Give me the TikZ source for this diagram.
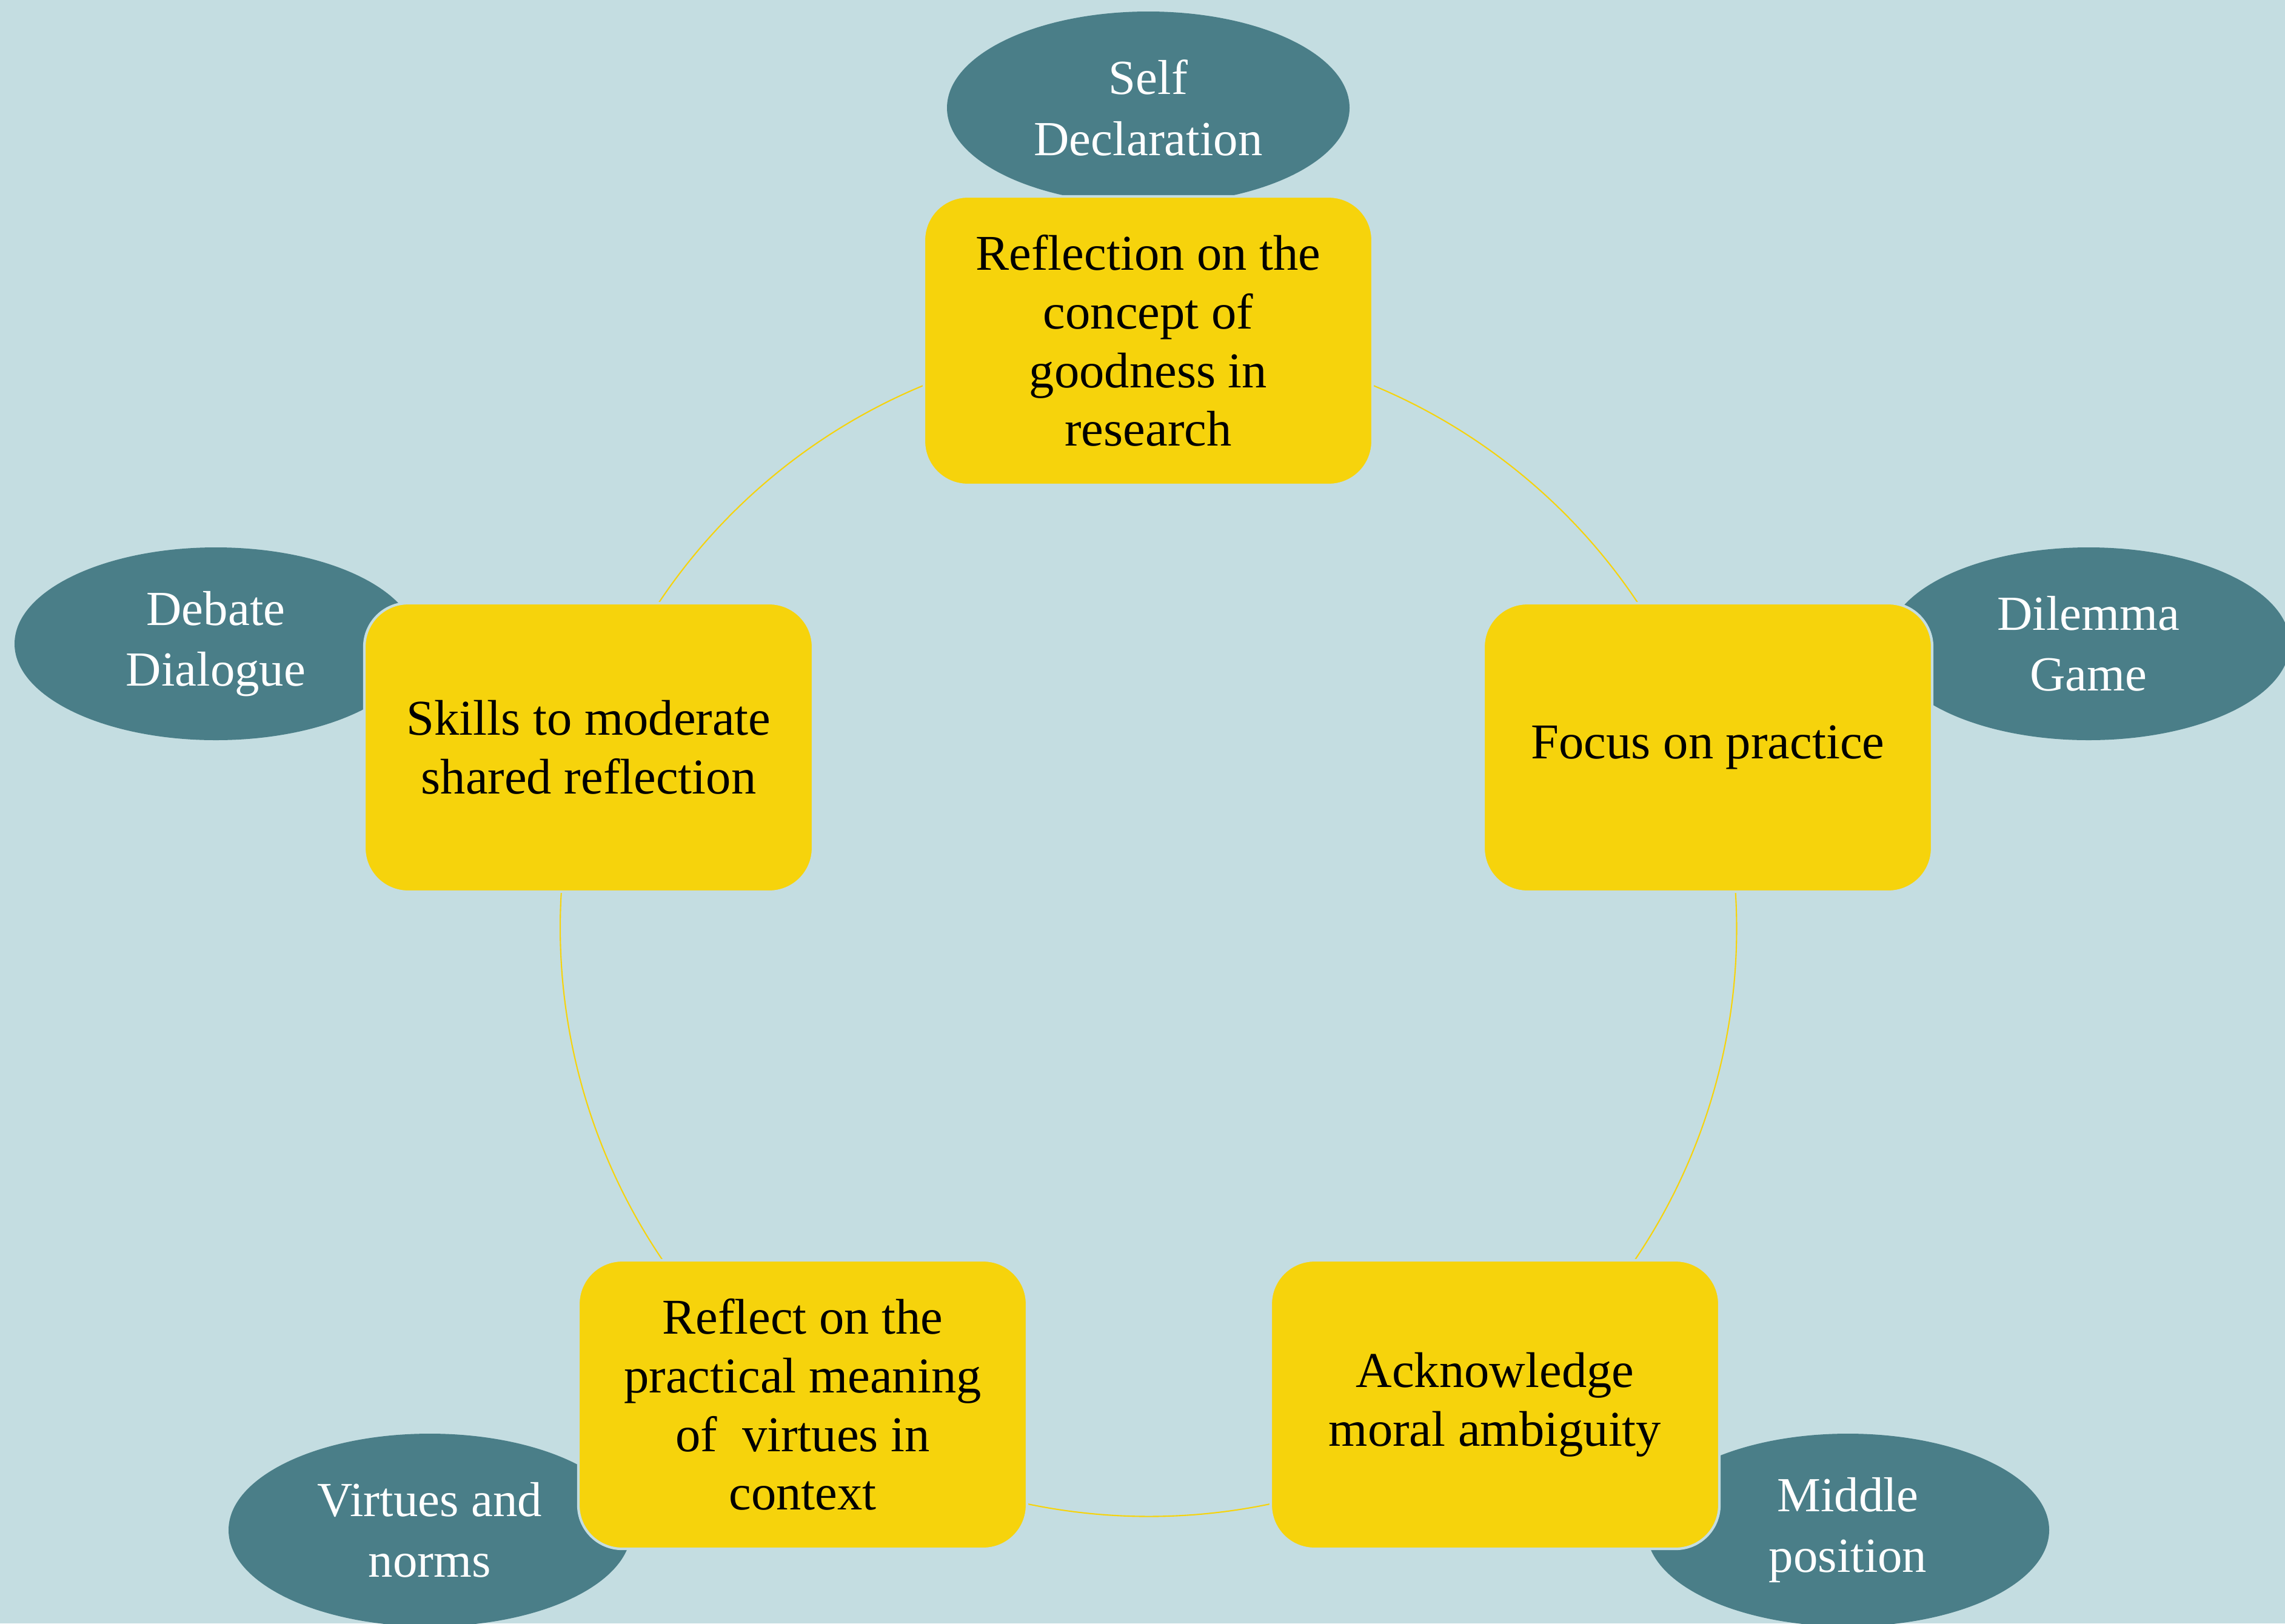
\documentclass[tikz,border=0pt]{standalone}
\usepackage{fontspec}
\setmainfont{Liberation Serif}
\usepackage{tikz}
\usetikzlibrary{shapes.geometric}

\definecolor{bgblue}{HTML}{C4DDE1}
\definecolor{boxyellow}{HTML}{F6D30C}
\definecolor{methodteal}{HTML}{4A7E88}

\pgfdeclarelayer{bg}
\pgfdeclarelayer{links}
\pgfsetlayers{bg,links,main}

\tikzset{
  theme/.style={rectangle, rounded corners=0.72cm, fill=boxyellow, draw=bgblue, line width=1.2pt,
    minimum width=7.4cm, minimum height=4.76cm, align=center, text=black,
    font=\fontsize{23.5}{27.5}\selectfont},
  method/.style={ellipse, fill=methodteal, minimum width=6.64cm, minimum height=3.18cm,
    align=center, text=white, inner sep=0pt, font=\fontsize{23}{28.5}\selectfont},
  link/.style={draw=boxyellow, line width=0.6pt, bend left=36, looseness=0.94}
}

\begin{document}
\begin{tikzpicture}
            % Background
            \begin{pgfonlayer}{bg}
            \fill[bgblue] (0,0) rectangle (37.69,-26.78);
            \end{pgfonlayer}
            \useasboundingbox (0,0) rectangle (37.69,-26.78);

            % Methods (behind the themes)
            \node[method] (selfdecl) at (18.94,-1.78) {Self\\Declaration};
            \node[method] (dilemma) at (34.45,-10.62) {Dilemma\\Game};
            \node[method] (middle) at (30.48,-25.24) {Middle\\position};
            \node[method] (norms) at (7.09,-25.24) {Virtues and\\norms};
            \node[method] (debate) at (3.56,-10.62) {Debate\\Dialogue};

            % Themes around the circle
            \node[theme] (goodness) at (18.94,-5.62) {Reflection on the\\concept of\\goodness in\\research};
            \node[theme] (practice) at (28.17,-12.33) {Focus on practice};
            \node[theme] (ambiguity) at (24.66,-23.17) {Acknowledge\\moral ambiguity};
            \node[theme] (virtues) at (13.24,-23.17) {Reflect on the\\practical meaning\\of~ virtues in\\context};
            \node[theme] (skills) at (9.71,-12.33) {Skills to moderate\\shared reflection};

            % Circle of links, drawn under the themes
            \begin{pgfonlayer}{links}
            \draw[link] (goodness.center) to (practice.center);
            \draw[link] (practice.center) to (ambiguity.center);
            \draw[link] (ambiguity.center) to (virtues.center);
            \draw[link] (virtues.center) to (skills.center);
            \draw[link] (skills.center) to (goodness.center);
            \end{pgfonlayer}
        \end{tikzpicture}
\end{document}
